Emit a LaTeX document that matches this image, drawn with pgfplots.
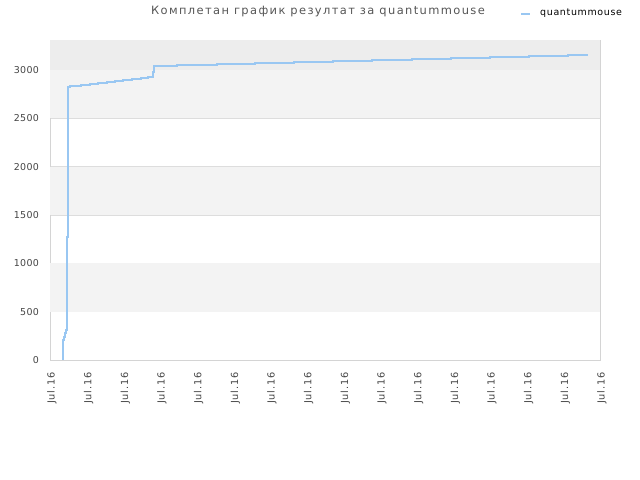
\documentclass[border=0pt]{standalone}
\usepackage{pgfplots}
\pgfplotsset{compat=1.18}
\usepackage{fontspec}
\setmainfont{DejaVu Sans}
\newfontfamily\titfont[LetterSpace=12]{DejaVu Sans}
\newfontfamily\legfont[LetterSpace=7]{DejaVu Sans}
\newfontfamily\tickfont[LetterSpace=4]{DejaVu Sans}
\newfontfamily\xtickfont[LetterSpace=8]{DejaVu Sans}
\definecolor{linec}{HTML}{99C7F2}
\definecolor{bandc}{HTML}{F3F3F3}
\definecolor{topc}{HTML}{EDEDED}
\definecolor{gridc}{HTML}{DDDDDD}
\definecolor{axc}{HTML}{D4D4D4}
\definecolor{titc}{HTML}{555555}
\definecolor{tickc}{HTML}{444444}
\begin{document}
\begin{tikzpicture}[x=1bp,y=1bp]
\useasboundingbox (0,0) rectangle (640,480);
\begin{axis}[
  at={(50bp,120bp)}, anchor=south west,
  scale only axis, width=550bp, height=320bp,
  xmin=50, xmax=600, ymin=0, ymax=3310,
  axis line style={axc},
  xtick={50,86.67,123.33,160,196.67,233.33,270,306.67,343.33,380,416.67,453.33,490,526.67,563.33,600},
  xticklabels={Jul.16,Jul.16,Jul.16,Jul.16,Jul.16,Jul.16,Jul.16,Jul.16,Jul.16,Jul.16,Jul.16,Jul.16,Jul.16,Jul.16,Jul.16,Jul.16},
  xticklabel style={xshift=2bp, yshift=-9bp, rotate=90, anchor=east, font=\xtickfont\fontsize{9.8}{11}\selectfont, text=tickc},
  ytick={0,500,1000,1500,2000,2500,3000},
  yticklabel style={font=\tickfont\fontsize{9.5}{11}\selectfont, text=tickc, xshift=-7.5bp},
  /pgf/number format/assume math mode=true,
  /pgf/number format/1000 sep={},
  major tick length=0pt,
  ymajorgrids, grid style={gridc},
  clip=true,
]
\fill[bandc] (axis cs:50,500) rectangle (axis cs:600,1000);
\fill[bandc] (axis cs:50,1500) rectangle (axis cs:600,2000);
\fill[bandc] (axis cs:50,2500) rectangle (axis cs:600,3000);
\fill[topc] (axis cs:50,3000) rectangle (axis cs:600,3310);
\addplot[const plot, color=linec, line width=2bp] coordinates {
(62.7,0) (62.7,207) (63.5,240) (64.5,280) (66,310) (66.7,1276) (67.7,2828)
(70,2830) (81,2842) (90,2852) (98,2862) (106.7,2873) (115,2883) (123,2893)
(131.7,2903) (141,2913) (148.3,2924) (153.3,2975) (154,3045)
(176.7,3052) (216.7,3062) (255,3072) (294,3082) (333,3092) (372,3102)
(411.7,3112) (451,3122) (490,3132) (529,3142) (568,3155) (587.7,3155)
};
\end{axis}
\node[anchor=center, text=titc, font=\titfont\fontsize{11.5}{13}\selectfont] at (318,468) {Комплетан график резултат за quantummouse};
\draw[linec, line width=2bp] (521,466) -- (530,466);
\node[anchor=west, font=\legfont\fontsize{9.5}{11}\selectfont, inner sep=0pt] at (540,467) {quantummouse};
\end{tikzpicture}
\end{document}
